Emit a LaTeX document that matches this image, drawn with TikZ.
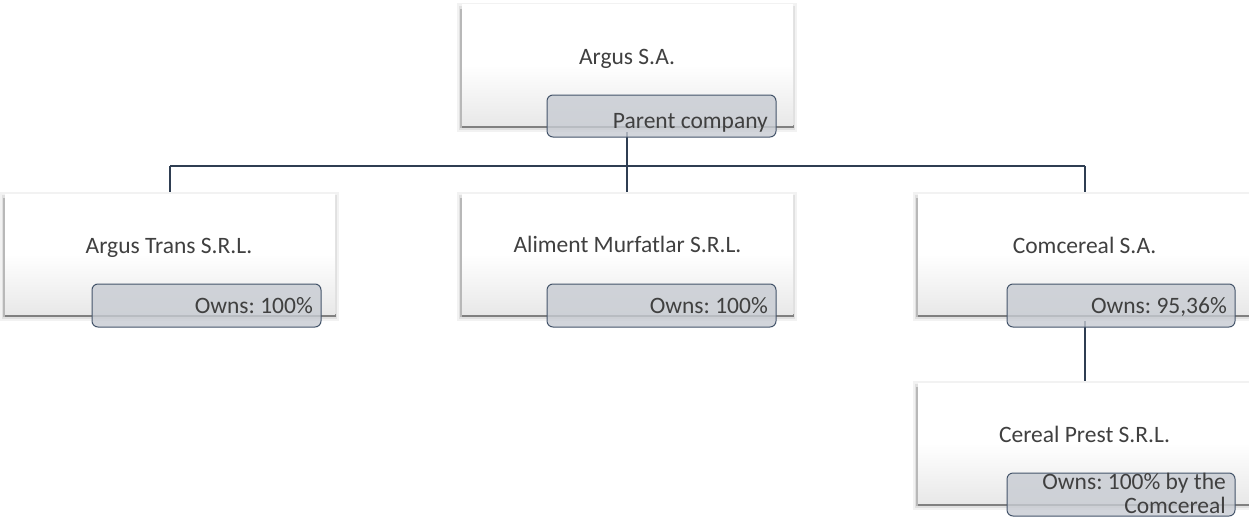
\documentclass[tikz,border=0pt]{standalone}
\usepackage{fontspec}
\setmainfont{Carlito}
\usetikzlibrary{calc}
\frenchspacing
\definecolor{conn}{HTML}{2F3E52}
\definecolor{lblfill}{HTML}{C7CBD2}
\definecolor{lbldraw}{HTML}{44546A}
\definecolor{txt}{HTML}{404040}
\tikzset{
  conline/.style={draw=conn, line width=2pt},
  boxbody/.style={top color=white, bottom color=black!9, middle color=white, draw=none},
  lblbox/.style={rounded corners=6pt, fill=lblfill, fill opacity=0.8, draw=lbldraw, line width=1pt},
  mtext/.style={text=txt, font=\fontsize{23.5}{24}\selectfont, inner sep=0pt, anchor=base},
  ltext/.style={text=txt, font=\fontsize{23.5}{24}\selectfont, inner sep=0pt, anchor=base east, align=right},
}
\newcommand{\orgbox}[5]{% name, x1, y1, x2, y2
  \fill[black!5] (#2-5,#3-2) rectangle (#4+4,#5+6);
  \fill[black!12] (#2-3,#3+1) rectangle (#4+2,#5+4);
  \fill[black!50] (#2,#5-1) rectangle (#4+1,#5+2);
  \fill[black!28] (#2-2,#3+4) rectangle (#2,#5+2);
  \path[boxbody] (#2,#3) rectangle (#4,#5-1);
  \coordinate (#1) at ($(#2,#3)!0.5!(#4,#5)$);
}
\begin{document}
\begin{tikzpicture}[x=1pt,y=-1pt]
\useasboundingbox (0,0) rectangle (1249,519);
\fill[white] (0,0) rectangle (1249,519);
% connector coordinates
\coordinate (pl) at (627,118);
\coordinate (hb) at (627,166);
\coordinate (c1) at (170,166);
\coordinate (c3) at (1085,166);
\coordinate (b1t) at (170,195);
\coordinate (b2t) at (627,195);
\coordinate (b3t) at (1085,195);
\coordinate (cl) at (1085,306);
\coordinate (b4t) at (1085,384);
% connectors
\draw[conline] (pl) -- (hb);
\draw[conline] (c1) -- (c3);
\draw[conline] (c1) -- (b1t);
\draw[conline] (hb) -- (b2t);
\draw[conline] (c3) -- (b3t);
\draw[conline] (cl) -- (b4t);
% boxes
\orgbox{top}{462}{5}{793}{126}
\orgbox{b1}{5}{194}{335}{315}
\orgbox{b2}{462}{194}{793}{315}
\orgbox{b3}{918}{194}{1249}{315}
\orgbox{b4}{918}{383}{1249}{504}
% texts
\node[mtext] (t0) at (627,64) {Argus S.A.};
\node[mtext] (t1) at (169,253) {Argus Trans S.R.L.};
\node[mtext] (t2) at (627.5,252) {Aliment Murfatlar S.R.L.};
\node[mtext] (t3) at (1084.5,253) {Comcereal S.A.};
\node[mtext] (t4) at (1084.5,442) {Cereal Prest S.R.L.};
% labels
\path[lblbox] (547,95) rectangle (776,137);
\path[lblbox] (92,284) rectangle (321,327);
\path[lblbox] (547,284) rectangle (776,327);
\path[lblbox] (1007,284) rectangle (1235,327);
\path[lblbox] (1007,473) rectangle (1235,516);
\node[ltext] (l0) at (768,128) {Parent company};
\node[ltext] (l1) at (313,313) {Owns: 100\%};
\node[ltext] (l2) at (768,313) {Owns: 100\%};
\node[ltext] (l3) at (1227,313) {Owns: 95,36\%};
\node[ltext] (l4a) at (1226,489) {Owns: 100\% by the};
\node[ltext] (l4b) at (1226,513) {Comcereal};
\end{tikzpicture}
\end{document}
